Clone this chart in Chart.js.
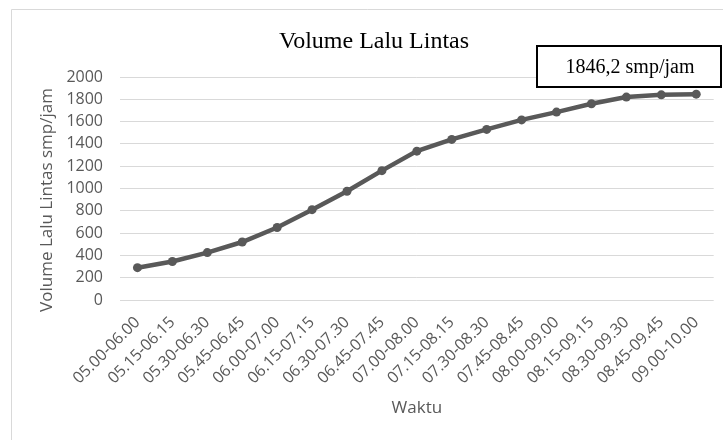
<!DOCTYPE html>
<html>
<head>
<meta charset="utf-8">
<script src="https://cdn.jsdelivr.net/npm/chart.js@4.4.1/dist/chart.umd.min.js"></script>
<style>
  html, body { margin: 0; padding: 0; background: #fff; }
  #wrap { width: 723px; height: 440px; }
</style>
</head>
<body>
<div id="wrap"><canvas id="volumeChart" width="723" height="440"></canvas></div>
<script>
// Chart data
const waktu = ["05.00-06.00", "05.15-06.15", "05.30-06.30", "05.45-06.45", "06.00-07.00",
    "06.15-07.15", "06.30-07.30", "06.45-07.45", "07.00-08.00", "07.15-08.15", "07.30-08.30",
    "07.45-08.45", "08.00-09.00", "08.15-09.15", "08.30-09.30", "08.45-09.45", "09.00-10.00"];
const volume = [290, 345, 425, 520, 650, 810, 975, 1160, 1335, 1440, 1530, 1615, 1685, 1760, 1820, 1840, 1846.2];
const yMin = 0;
const yMax = 2000;
const yStep = 200;

const chartTitle = "Volume Lalu Lintas";
const yTitle = "Volume Lalu Lintas smp/jam";
const xTitle = "Waktu";
const peakLabel = "1846,2 smp/jam";

const gray = "#595959";
const sans = "'Open Sans', sans-serif";
const serif = "'Liberation Serif', 'Times New Roman', serif";

// Frame, titles and the peak label box
const decorations = {
    id: "decorations",
    beforeDraw(chart) {
        const ctx = chart.ctx;
        ctx.save();
        ctx.fillStyle = "#fff";
        ctx.fillRect(0, 0, chart.width, chart.height);
        ctx.strokeStyle = "#d9d9d9";
        ctx.lineWidth = 1;
        ctx.beginPath();
        ctx.moveTo(11.5, chart.height);
        ctx.lineTo(11.5, 9.5);
        ctx.lineTo(chart.width, 9.5);
        ctx.stroke();
        ctx.restore();
    },
    afterDraw(chart) {
        const ctx = chart.ctx;
        const area = chart.chartArea;
        ctx.save();
        // chart title
        ctx.fillStyle = "#000";
        ctx.font = "24px " + serif;
        ctx.textAlign = "center";
        ctx.textBaseline = "alphabetic";
        ctx.fillText(chartTitle, 374, 48);

        // axis titles
        ctx.fillStyle = gray;
        ctx.font = "17px " + sans;
        ctx.textBaseline = "middle";
        ctx.fillText(xTitle, (area.left + area.right) / 2, 408);
        ctx.translate(47, 200);
        ctx.rotate(-Math.PI / 2);
        ctx.fillText(yTitle, 0, 0);
        ctx.restore();

        // peak value box
        ctx.save();
        ctx.fillStyle = "#fff";
        ctx.fillRect(537, 46, 184, 41);
        ctx.strokeStyle = "#000";
        ctx.lineWidth = 2;
        ctx.strokeRect(537, 46, 184, 41);
        ctx.fillStyle = "#000";
        ctx.font = "20px " + serif;
        ctx.textAlign = "center";
        ctx.textBaseline = "alphabetic";
        ctx.fillText(peakLabel, 630, 73);
        ctx.restore();
    }
};

const ctx = document.getElementById("volumeChart").getContext("2d");
new Chart(ctx, {
    type: "line",
    data: {
        labels: waktu,
        datasets: [{
            label: chartTitle,
            data: volume,
            borderColor: gray,
            backgroundColor: gray,
            borderWidth: 4.5,
            pointRadius: 4.5,
            pointBorderWidth: 0,
            pointBackgroundColor: gray,
            tension: 0
        }]
    },
    options: {
        responsive: false,
        animation: false,
        devicePixelRatio: 1,
        layout: { padding: { top: 77, right: 7, left: 0, bottom: 0 } },
        plugins: {
            legend: { display: false },
            tooltip: { enabled: false }
        },
        scales: {
            x: {
                offset: true,
                grid: { display: false, drawTicks: false },
                border: { display: false },
                ticks: {
                    color: gray,
                    font: { family: sans, size: 16 },
                    minRotation: 45,
                    maxRotation: 45,
                    autoSkip: false,
                    padding: 13
                },
                afterFit(scale) { scale.height = 140; }
            },
            y: {
                min: yMin,
                max: yMax,
                grid: { color: "#d9d9d9", lineWidth: 1, drawTicks: false },
                border: { display: false },
                ticks: {
                    stepSize: yStep,
                    color: gray,
                    font: { family: sans, size: 16 },
                    padding: 17,
                    callback: (value) => String(value)
                },
                afterFit(scale) { scale.width = 120; }
            }
        }
    },
    plugins: [decorations]
});
</script>
</body>
</html>
